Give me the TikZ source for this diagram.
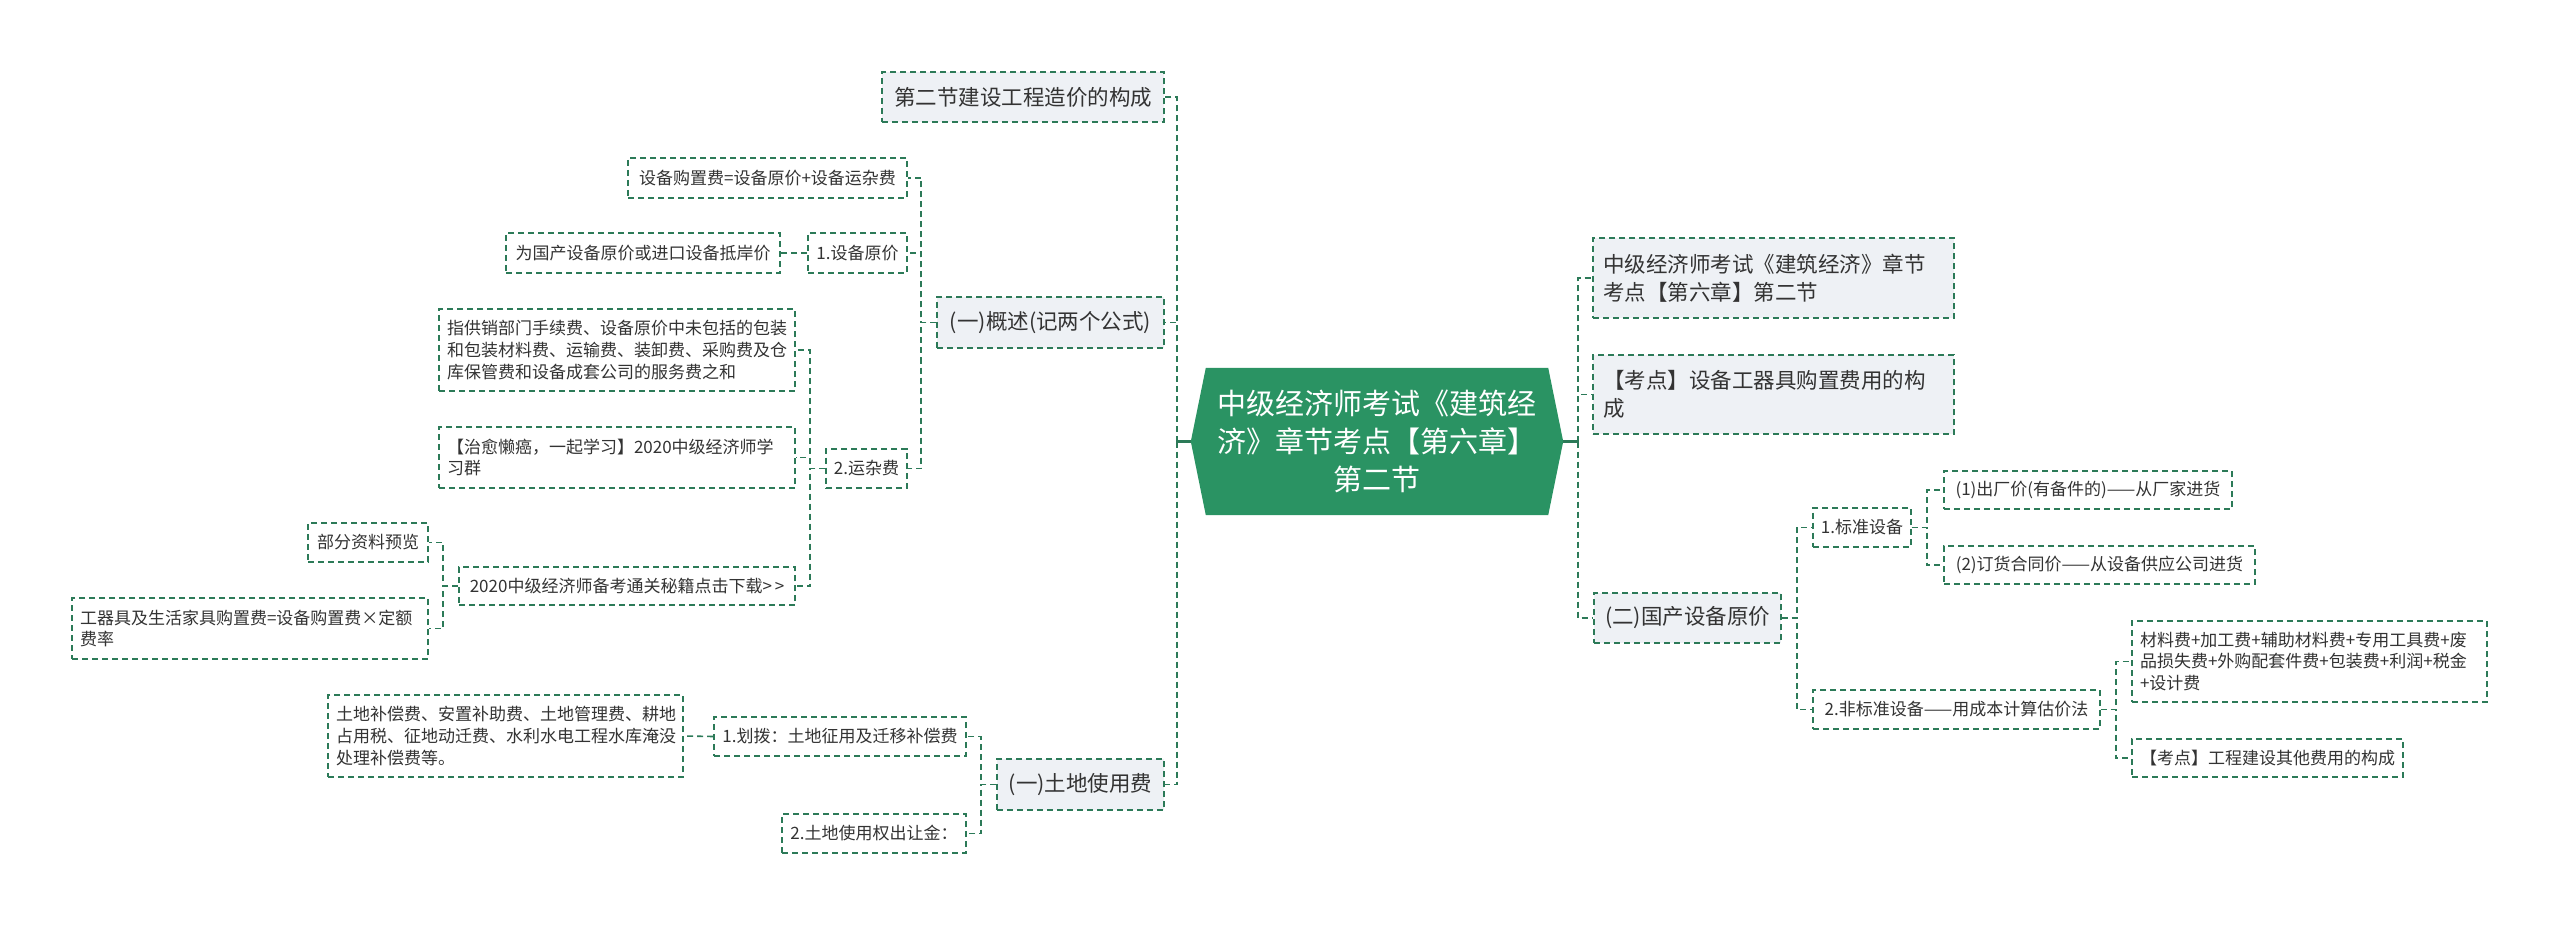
\documentclass[tikz,border=0pt]{standalone}
\usepackage{fontspec}
\setmainfont{Noto Sans CJK SC}
\usepackage{tikz}
\usetikzlibrary{backgrounds}
\definecolor{rootGreen}{RGB}{42,147,99}
\definecolor{lineGreen}{RGB}{44,122,88}
\definecolor{paleGrey}{RGB}{238,241,245}
\definecolor{inkGrey}{RGB}{51,51,51}
\tikzset{
  topic/.style={draw=lineGreen, line width=1.6pt, dash pattern=on 6pt off 4pt, fill=paleGrey, text=inkGrey,
    inner xsep=10pt, inner ysep=3pt, align=left, font=\fontsize{21.5}{28}\selectfont},
  leaf/.style={draw=lineGreen, line width=1.6pt, dash pattern=on 6pt off 4pt, fill=white, text=inkGrey,
    inner xsep=8pt, inner ysep=3pt, align=left, font=\fontsize{17}{21.7}\selectfont},
  link/.style={lineGreen, line width=1.6pt, dash pattern=on 6pt off 4pt},
  rootlink/.style={lineGreen, line width=2.4pt},
}

\begin{document}
\begin{tikzpicture}[x=1pt,y=-1pt]
    \useasboundingbox (0,0) rectangle (2560,925);
    \node[text=white, align=center, inner sep=0pt, minimum width=372pt, minimum height=147pt,
      font=\fontsize{29}{38}\selectfont] (root) at (1377,441.5) {中级经济师考试《建筑经\\济》章节考点【第六章】\\第二节};
    \begin{scope}[on background layer]
    \fill[white] (0,0) rectangle (2560,925);
    \fill[rootGreen] ([xshift=15pt]root.north west) -- (root.west) -- ([xshift=15pt]root.south west)
      -- ([xshift=-15pt]root.south east) -- (root.east) -- ([xshift=-15pt]root.north east) -- cycle;
    \end{scope}
    \coordinate (lt) at ([xshift=-14pt]root.west);
    \coordinate (rt) at ([xshift=15pt]root.east);

    \node[topic, minimum width=282pt, minimum height=50pt] (jie) at (1023,97) {第二节建设工程造价的构成};
    \node[topic, minimum width=227pt, minimum height=51pt] (gaishu) at (1050.5,322.5) {(一)概述(记两个公式)};
    \node[topic, minimum width=167pt, minimum height=51pt] (tudi) at (1080.5,784.5) {(一)土地使用费};

    \node[leaf, minimum width=279pt, minimum height=40pt] (gouzhi) at (767.5,178) {设备购置费=设备原价+设备运杂费};
    \node[leaf, minimum width=99pt, minimum height=40pt] (yuanjia) at (857.5,253) {1.设备原价};
    \node[leaf, minimum width=274pt, minimum height=40pt] (guochan) at (643,253) {为国产设备原价或进口设备抵岸价};
    \node[leaf, minimum width=81pt, minimum height=39pt] (yunza) at (866.5,468.5) {2.运杂费};
    \node[leaf, text width=340pt, minimum height=82pt] (zhigong) at (617,350) {指供销部门手续费、设备原价中未包括的包装\\和包装材料费、运输费、装卸费、采购费及仓\\库保管费和设备成套公司的服务费之和};
    \node[leaf, text width=340pt, minimum height=61pt] (zhiyu) at (617,457.5) {【治愈懒癌，一起学习】2020中级经济师学\\习群};
    \node[leaf, minimum width=336pt, minimum height=38pt] (xiazai) at (627,586) {2020中级经济师备考通关秘籍点击下载>{}\,>};
    \node[leaf, minimum width=120pt, minimum height=39pt] (yulan) at (368,542.5) {部分资料预览};
    \node[leaf, text width=340pt, minimum height=61pt] (qiju) at (250,628.5) {工器具及生活家具购置费=设备购置费×定额\\费率};
    \node[leaf, minimum width=252pt, minimum height=39pt] (huabo) at (840,736.5) {1.划拨：土地征用及迁移补偿费};
    \node[leaf, text width=339pt, minimum height=82pt] (buchang) at (505.5,736) {土地补偿费、安置补助费、土地管理费、耕地\\占用税、征地动迁费、水利水电工程水库淹没\\处理补偿费等。};
    \node[leaf, minimum width=184pt, minimum height=39pt] (churang) at (874,833.5) {2.土地使用权出让金：};

    \node[topic, text width=341pt, minimum height=80pt] (zhangjie) at (1773.5,278) {中级经济师考试《建筑经济》章节\\考点【第六章】第二节};
    \node[topic, text width=341pt, minimum height=79pt] (kaodian) at (1773.5,394.5) {【考点】设备工器具购置费用的构\\成};
    \node[topic, minimum width=187pt, minimum height=50pt] (guochanyj) at (1687.5,618) {(二)国产设备原价};
    \node[leaf, minimum width=98pt, minimum height=39pt] (biaozhun) at (1862,527.5) {1.标准设备};
    \node[leaf, minimum width=288pt, minimum height=38pt] (chuchang) at (2088,490) {(1)出厂价(有备件的)——从厂家进货};
    \node[leaf, minimum width=311pt, minimum height=38pt] (dinghuo) at (2099.5,565) {(2)订货合同价——从设备供应公司进货};
    \node[leaf, minimum width=287pt, minimum height=39pt] (feibiao) at (1956.5,709.5) {2.非标准设备——用成本计算估价法};
    \node[leaf, text width=339pt, minimum height=81pt] (cailiao) at (2309.5,661.5) {材料费+加工费+辅助材料费+专用工具费+废\\品损失费+外购配套件费+包装费+利润+税金\\+设计费};
    \node[leaf, minimum width=271pt, minimum height=38pt] (kaodianb) at (2267.5,758) {【考点】工程建设其他费用的构成};

    \draw[rootlink] (root.west) -- (lt);
    \draw[rootlink] (root.east) -- (rt);
    \draw[link] (lt) |- (jie.east);
    \draw[link] (lt) |- (gaishu.east);
    \draw[link] (lt) |- (tudi.east);
    \draw[link] (rt) |- (zhangjie.west);
    \draw[link] (rt) |- (kaodian.west);
    \draw[link] (rt) |- (guochanyj.west);

    \draw[link] (gaishu.west) -- ++(-15,0) |- (gouzhi.east);
    \draw[link] (gaishu.west) -- ++(-15,0) |- (yuanjia.east);
    \draw[link] (gaishu.west) -- ++(-15,0) |- (yunza.east);
    \draw[link] (yuanjia.west) -- (guochan.east);
    \draw[link] (yunza.west) -- ++(-15,0) |- (zhigong.east);
    \draw[link] (yunza.west) -- ++(-15,0) |- (zhiyu.east);
    \draw[link] (yunza.west) -- ++(-15,0) |- (xiazai.east);
    \draw[link] (xiazai.west) -- ++(-15,0) |- (yulan.east);
    \draw[link] (xiazai.west) -- ++(-15,0) |- (qiju.east);
    \draw[link] (tudi.west) -- ++(-15,0) |- (huabo.east);
    \draw[link] (tudi.west) -- ++(-15,0) |- (churang.east);
    \draw[link] (huabo.west) -- (buchang.east);

    \draw[link] (guochanyj.east) -- ++(15,0) |- (biaozhun.west);
    \draw[link] (guochanyj.east) -- ++(15,0) |- (feibiao.west);
    \draw[link] (biaozhun.east) -- ++(15,0) |- (chuchang.west);
    \draw[link] (biaozhun.east) -- ++(15,0) |- (dinghuo.west);
    \draw[link] (feibiao.east) -- ++(15,0) |- (cailiao.west);
    \draw[link] (feibiao.east) -- ++(15,0) |- (kaodianb.west);
\end{tikzpicture}
\end{document}
